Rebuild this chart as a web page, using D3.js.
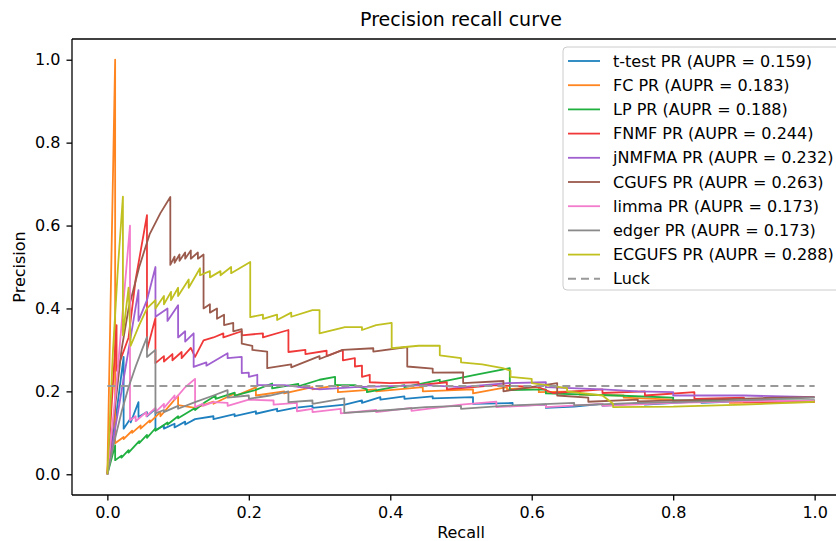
<!DOCTYPE html>
<html lang="en">
<head>
<meta charset="UTF-8">
<style>
    body{
        margin:0;
        background:#fff;
        font-family:"DejaVu Sans", sans-serif;
    }
    .curve{
        fill:none;
        stroke-width:1.8;
        stroke-linejoin:round;
    }
    .tick text{
        font-size:16px;
        fill:#000;
    }
</style>
<script src="https://d3js.org/d3.v7.min.js"></script>
</head>
<body>
<svg id="chart" width="836" height="541"></svg>
<script>
    // each curve: [recall, precision] points
    var ttestPR = [[0,0],[0.013,0.15],[0.023,0.283],[0.023,0.11],[0.033,0.135],[0.033,0.125],[0.044,0.174],[0.044,0.138],
        [0.056,0.15],[0.056,0.14],[0.068,0.158],[0.068,0.106],[0.08,0.118],[0.08,0.11],[0.095,0.122],[0.095,0.113],
        [0.11,0.127],[0.11,0.12],[0.124,0.133],[0.15,0.14],[0.15,0.133],[0.18,0.145],[0.18,0.14],[0.21,0.152],[0.21,0.146],
        [0.24,0.158],[0.24,0.152],[0.265,0.16],[0.29,0.165],[0.29,0.16],[0.336,0.168],[0.36,0.178],[0.36,0.172],
        [0.386,0.186],[0.386,0.18],[0.42,0.188],[0.42,0.182],[0.46,0.188],[0.46,0.183],[0.517,0.186],[0.517,0.17],
        [0.573,0.172],[0.573,0.165],[0.62,0.168],[0.62,0.16],[0.66,0.163],[0.7,0.17],[0.7,0.165],[0.76,0.172],
        [0.76,0.168],[0.84,0.176],[0.84,0.172],[0.92,0.178],[0.92,0.174],[1.0,0.178]];

    var fcPR = [[0,0],[0.011,1.0],[0.011,0.075],[0.023,0.09],[0.023,0.085],[0.035,0.105],[0.035,0.1],[0.047,0.118],
        [0.047,0.11],[0.06,0.13],[0.06,0.125],[0.075,0.15],[0.075,0.14],[0.09,0.17],[0.1,0.19],[0.1,0.167],[0.124,0.16],
        [0.15,0.175],[0.15,0.17],[0.18,0.195],[0.18,0.188],[0.21,0.21],[0.21,0.19],[0.25,0.2],[0.25,0.195],[0.29,0.21],
        [0.29,0.205],[0.326,0.215],[0.326,0.198],[0.38,0.205],[0.38,0.2],[0.446,0.21],[0.446,0.2],[0.517,0.205],
        [0.517,0.195],[0.565,0.21],[0.565,0.205],[0.61,0.21],[0.61,0.198],[0.668,0.2],[0.668,0.192],[0.73,0.19],
        [0.73,0.185],[0.8,0.18],[0.8,0.176],[0.88,0.178],[0.88,0.172],[1.0,0.174]];

    var lpPR = [[0,0],[0.011,0.07],[0.011,0.034],[0.02,0.045],[0.02,0.04],[0.03,0.058],[0.03,0.052],[0.045,0.08],
        [0.045,0.075],[0.056,0.095],[0.056,0.088],[0.068,0.111],[0.068,0.105],[0.085,0.125],[0.085,0.12],[0.1,0.14],
        [0.1,0.135],[0.124,0.16],[0.124,0.155],[0.138,0.174],[0.153,0.19],[0.153,0.182],[0.18,0.197],[0.18,0.19],
        [0.209,0.203],[0.233,0.219],[0.233,0.207],[0.27,0.218],[0.27,0.212],[0.3,0.228],[0.322,0.235],[0.322,0.215],
        [0.35,0.215],[0.367,0.205],[0.367,0.198],[0.42,0.215],[0.42,0.21],[0.47,0.228],[0.47,0.222],[0.52,0.24],
        [0.569,0.256],[0.569,0.203],[0.62,0.205],[0.62,0.195],[0.72,0.19],[0.8,0.185],[0.8,0.178],[0.876,0.178],
        [0.95,0.178],[1.0,0.178]];

    var fnmfPR = [[0,0],[0.013,0.36],[0.013,0.25],[0.03,0.33],[0.04,0.47],[0.056,0.625],[0.056,0.3],[0.068,0.377],
        [0.068,0.268],[0.08,0.285],[0.08,0.272],[0.092,0.29],[0.092,0.275],[0.105,0.295],[0.105,0.28],[0.118,0.305],
        [0.124,0.283],[0.136,0.323],[0.15,0.33],[0.164,0.34],[0.164,0.33],[0.19,0.345],[0.19,0.335],[0.22,0.34],
        [0.22,0.33],[0.256,0.348],[0.256,0.295],[0.28,0.3],[0.28,0.29],[0.31,0.298],[0.31,0.285],[0.333,0.3],
        [0.333,0.275],[0.35,0.28],[0.35,0.26],[0.36,0.262],[0.36,0.235],[0.371,0.24],[0.371,0.222],[0.4,0.22],
        [0.44,0.222],[0.44,0.215],[0.48,0.222],[0.48,0.205],[0.55,0.215],[0.61,0.21],[0.63,0.196],[0.7,0.205],
        [0.7,0.196],[0.76,0.2],[0.76,0.19],[0.83,0.198],[0.83,0.182],[0.9,0.185],[0.9,0.175],[1.0,0.175]];

    var jnmfmaPR = [[0,0],[0.03,0.3],[0.044,0.444],[0.044,0.37],[0.056,0.42],[0.068,0.5],[0.068,0.38],[0.085,0.4],
        [0.085,0.37],[0.1,0.408],[0.1,0.33],[0.11,0.345],[0.11,0.32],[0.122,0.34],[0.122,0.259],[0.14,0.27],
        [0.14,0.262],[0.17,0.292],[0.17,0.28],[0.19,0.283],[0.19,0.244],[0.2,0.245],[0.2,0.235],[0.212,0.24],
        [0.212,0.215],[0.25,0.215],[0.3,0.205],[0.35,0.21],[0.45,0.215],[0.5,0.21],[0.565,0.22],[0.62,0.222],
        [0.62,0.21],[0.7,0.205],[0.75,0.2],[0.8,0.198],[0.8,0.19],[0.9,0.19],[1.0,0.186]];

    var cgufsPR = [[0,0],[0.01,0.15],[0.02,0.3],[0.03,0.4],[0.045,0.5],[0.06,0.58],[0.075,0.63],[0.089,0.669],
        [0.089,0.505],[0.095,0.525],[0.095,0.51],[0.102,0.53],[0.102,0.515],[0.11,0.535],[0.11,0.52],[0.118,0.54],
        [0.118,0.52],[0.128,0.535],[0.128,0.52],[0.136,0.53],[0.136,0.4],[0.145,0.41],[0.145,0.39],[0.155,0.4],
        [0.155,0.375],[0.165,0.385],[0.165,0.36],[0.178,0.365],[0.178,0.345],[0.19,0.35],[0.19,0.315],[0.205,0.31],
        [0.205,0.3],[0.226,0.296],[0.226,0.256],[0.26,0.265],[0.26,0.258],[0.3,0.285],[0.3,0.278],[0.333,0.3],
        [0.376,0.304],[0.376,0.296],[0.424,0.307],[0.424,0.26],[0.46,0.255],[0.46,0.245],[0.503,0.246],[0.503,0.22],
        [0.56,0.225],[0.56,0.2],[0.636,0.22],[0.636,0.19],[0.68,0.185],[0.68,0.175],[0.75,0.18],[0.75,0.176],
        [0.85,0.18],[0.93,0.184],[1.0,0.186]];

    var limmaPR = [[0,0],[0.012,0.2],[0.022,0.4],[0.032,0.6],[0.032,0.13],[0.04,0.14],[0.04,0.128],[0.055,0.15],
        [0.055,0.14],[0.068,0.16],[0.068,0.15],[0.08,0.17],[0.08,0.16],[0.095,0.19],[0.095,0.18],[0.11,0.21],
        [0.124,0.23],[0.124,0.162],[0.135,0.17],[0.135,0.165],[0.15,0.174],[0.17,0.172],[0.17,0.165],[0.2,0.18],
        [0.235,0.178],[0.235,0.168],[0.268,0.172],[0.268,0.152],[0.29,0.158],[0.29,0.15],[0.33,0.158],[0.33,0.147],
        [0.38,0.155],[0.38,0.15],[0.43,0.16],[0.43,0.153],[0.5,0.168],[0.55,0.175],[0.55,0.162],[0.62,0.168],
        [0.62,0.162],[0.7,0.17],[0.7,0.165],[0.8,0.172],[0.9,0.176],[1.0,0.178]];

    var edgerPR = [[0,0],[0.01,0.08],[0.02,0.15],[0.03,0.21],[0.04,0.26],[0.05,0.305],[0.056,0.331],[0.056,0.283],
        [0.068,0.3],[0.068,0.147],[0.08,0.155],[0.08,0.15],[0.1,0.165],[0.1,0.158],[0.124,0.174],[0.15,0.19],
        [0.17,0.203],[0.17,0.185],[0.2,0.19],[0.2,0.182],[0.23,0.19],[0.256,0.2],[0.256,0.174],[0.29,0.178],
        [0.29,0.17],[0.335,0.183],[0.335,0.148],[0.4,0.155],[0.45,0.162],[0.5,0.165],[0.5,0.158],[0.56,0.165],
        [0.6,0.168],[0.66,0.172],[0.66,0.166],[0.75,0.172],[0.85,0.176],[0.95,0.182],[1.0,0.185]];

    var ecgufsPR = [[0,0],[0.008,0.3],[0.015,0.5],[0.022,0.67],[0.022,0.335],[0.03,0.45],[0.033,0.31],[0.045,0.36],
        [0.056,0.4],[0.068,0.42],[0.068,0.4],[0.08,0.43],[0.08,0.41],[0.09,0.44],[0.09,0.42],[0.1,0.45],[0.1,0.43],
        [0.115,0.47],[0.115,0.45],[0.131,0.497],[0.131,0.48],[0.145,0.49],[0.145,0.475],[0.16,0.49],[0.16,0.48],
        [0.175,0.5],[0.175,0.485],[0.202,0.512],[0.202,0.379],[0.22,0.385],[0.22,0.375],[0.24,0.385],[0.24,0.372],
        [0.26,0.39],[0.26,0.38],[0.29,0.396],[0.3,0.396],[0.3,0.34],[0.336,0.355],[0.36,0.355],[0.36,0.348],
        [0.38,0.36],[0.402,0.365],[0.402,0.304],[0.44,0.31],[0.47,0.31],[0.47,0.287],[0.5,0.28],[0.5,0.27],
        [0.53,0.265],[0.559,0.256],[0.57,0.25],[0.57,0.235],[0.6,0.23],[0.6,0.22],[0.65,0.208],[0.65,0.2],
        [0.7,0.19],[0.715,0.17],[0.715,0.162],[0.8,0.163],[0.9,0.168],[1.0,0.175]];

    var luck = [[0,0.213],[1,0.213]];

    var names = ["t-test", "FC", "LP", "FNMF", "jNMFMA", "CGUFS", "limma", "edger", "ECGUFS"];
    var aupr = [0.159, 0.183, 0.188, 0.244, 0.232, 0.263, 0.173, 0.173, 0.288];
    var curves = [ttestPR, fcPR, lpPR, fnmfPR, jnmfmaPR, cgufsPR, limmaPR, edgerPR, ecgufsPR];
    var colors = ["#1f80c0", "#ff8520", "#20b040", "#f03838", "#a060d0", "#9a5a4c", "#f47ccc", "#8a8a8a", "#c0c020"];
    var xTicks = [0, 0.2, 0.4, 0.6, 0.8, 1.0];
    var yTicks = [0, 0.2, 0.4, 0.6, 0.8, 1.0];

    var margin = {top: 39, left: 72},
        width = 778,
        height = 456;

    var svg = d3.select("#chart");
    var g = svg.append("g")
        .attr("transform", "translate(" + margin.left + "," + margin.top + ")");

    var x = d3.scaleLinear().domain([-0.05, 1.05]).range([0, width]);
    var y = d3.scaleLinear().domain([-0.05, 1.05]).range([height, 0]);

    g.append("clipPath").attr("id", "plotclip")
        .append("rect").attr("width", width).attr("height", height);

    var line = d3.line()
        .x(function(d) { return x(d[0]); })
        .y(function(d) { return y(d[1]); });

    var plot = g.append("g").attr("clip-path", "url(#plotclip)");

    curves.forEach(function(c, i) {
        plot.append("path")
            .datum(c)
            .attr("class", "curve")
            .attr("stroke", colors[i])
            .attr("d", line);
    });

    plot.append("path")
        .datum(luck)
        .attr("class", "curve")
        .attr("stroke", "#999")
        .attr("stroke-width", 2)
        .attr("stroke-dasharray", "8,5")
        .attr("d", line);

    // axes
    var xAxis = d3.axisBottom(x).tickValues(xTicks).tickFormat(d3.format(".1f")).tickSize(5.5).tickPadding(6);
    var yAxis = d3.axisLeft(y).tickValues(yTicks).tickFormat(d3.format(".1f")).tickSize(5.5).tickPadding(6);

    g.append("g")
        .attr("transform", "translate(0," + height + ")")
        .call(xAxis)
        .call(function(a) { a.select(".domain").remove(); });
    g.append("g")
        .call(yAxis)
        .call(function(a) { a.select(".domain").remove(); });

    g.selectAll(".tick line").attr("stroke", "#000").attr("stroke-width", 1.3);
    g.selectAll(".tick text").attr("font-family", "DejaVu Sans, sans-serif").attr("font-size", 16);

    // spines
    var spines = g.append("g").attr("stroke", "#000").attr("stroke-width", 1.3).attr("fill", "none");
    spines.append("line").attr("x1", 0).attr("x2", 0).attr("y1", 0).attr("y2", height);
    spines.append("line").attr("x1", 0).attr("x2", width).attr("y1", 0).attr("y2", 0);
    spines.append("line").attr("x1", 0).attr("x2", width).attr("y1", height).attr("y2", height);
    spines.append("line").attr("x1", width).attr("x2", width).attr("y1", 0).attr("y2", height);

    // titles
    svg.append("text")
        .attr("x", margin.left + width / 2).attr("y", 26)
        .attr("text-anchor", "middle")
        .attr("font-size", 19)
        .text("Precision recall curve");
    svg.append("text")
        .attr("x", margin.left + width / 2).attr("y", 538)
        .attr("text-anchor", "middle")
        .attr("font-size", 16)
        .text("Recall");
    svg.append("text")
        .attr("transform", "translate(25," + (margin.top + height / 2) + ") rotate(-90)")
        .attr("text-anchor", "middle")
        .attr("font-size", 16)
        .text("Precision");

    // legend
    var legend = g.append("g").attr("transform", "translate(" + (563 - margin.left) + "," + (47 - margin.top) + ")");
    legend.append("rect")
        .attr("width", 290).attr("height", 243)
        .attr("rx", 4)
        .attr("fill", "#fff").attr("fill-opacity", 0.8)
        .attr("stroke", "#ccc");

    var items = names.map(function(n, i) {
        return {label: n + " PR (AUPR = " + aupr[i].toFixed(3) + ")", color: colors[i], dash: null};
    });
    items.push({label: "Luck", color: "#999", dash: "8,5"});

    items.forEach(function(it, i) {
        var cy = 14 + i * 24.2;
        legend.append("line")
            .attr("x1", 5).attr("x2", 37)
            .attr("y1", cy).attr("y2", cy)
            .attr("stroke", it.color)
            .attr("stroke-width", it.dash ? 2 : 1.8)
            .attr("stroke-dasharray", it.dash);
        legend.append("text")
            .attr("x", 50).attr("y", cy + 5.5)
            .attr("font-size", 16)
            .text(it.label);
    });
</script>
</body>
</html>
